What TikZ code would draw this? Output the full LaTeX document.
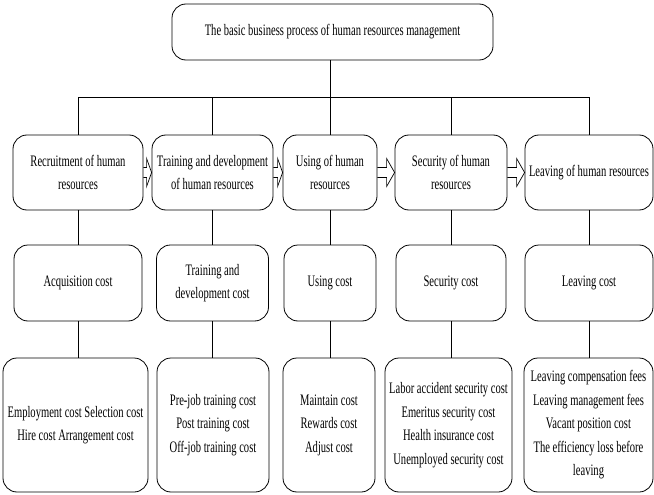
\documentclass[tikz,border=0pt]{standalone}
\usepackage{fontspec}
\setmainfont[FakeStretch=0.66]{Liberation Serif}
\usetikzlibrary{calc}
\tikzset{
  box/.style={draw, line width=0.8pt, rounded corners=14pt, align=center, inner sep=0pt,
    font=\fontsize{16}{23.5}\selectfont},
  conn/.style={line width=0.6pt},
  barrow/.style={line width=0.7pt}
}
\newcommand{\blockarrow}[3]{%
  \draw[barrow] let \p1=(#1.east), \p2=(#2.west) in
    (\x1,\y1+5pt) -- (\x2-#3,\y1+5pt) -- (\x2-#3,\y1+14pt) -- (\x2,\y1)
    -- (\x2-#3,\y1-14pt) -- (\x2-#3,\y1-5pt) -- (\x1,\y1-5pt);
}
\begin{document}
\begin{tikzpicture}[x=1pt,y=-1pt]
\useasboundingbox (0,0) rectangle (654,495);
% top
\node[box, minimum width=321pt, minimum height=56pt] (top) at (332.5,32)
  {The basic business process of human resources management};
% row 1
\node[box, minimum width=130pt, minimum height=75pt] (r1a) at (78,172.5) {Recruitment of human\\resources};
\node[box, minimum width=121pt, minimum height=75pt] (r1b) at (212.5,172.5) {Training and development\\of human resources};
\node[box, minimum width=94pt, minimum height=75pt] (r1c) at (330,172.5) {Using of human\\resources};
\node[box, minimum width=112pt, minimum height=75pt] (r1d) at (451,172.5) {Security of human\\resources};
\node[box, minimum width=128pt, minimum height=75pt] (r1e) at (589,172.5) {Leaving of human resources};
% row 2
\node[box, minimum width=128pt, minimum height=76pt] (r2a) at (78,283) {Acquisition cost};
\node[box, minimum width=112pt, minimum height=76pt] (r2b) at (212.5,283) {Training and\\development cost};
\node[box, minimum width=92pt, minimum height=76pt] (r2c) at (330,283) {Using cost};
\node[box, minimum width=110pt, minimum height=76pt] (r2d) at (451,283) {Security cost};
\node[box, minimum width=128pt, minimum height=76pt] (r2e) at (589,283) {Leaving cost};
% row 3
\node[box, minimum width=145pt, minimum height=134pt] (r3a) at (75.5,425) {Employment cost Selection cost\\Hire cost Arrangement cost};
\node[box, minimum width=112pt, minimum height=134pt] (r3b) at (213,425) {Pre-job training cost\\Post training cost\\Off-job training cost};
\node[box, minimum width=92pt, minimum height=134pt] (r3c) at (329,425) {Maintain cost\\Rewards cost\\Adjust cost};
\node[box, minimum width=127pt, minimum height=134pt] (r3d) at (448.5,425) {Labor accident security cost\\Emeritus security cost\\Health insurance cost\\Unemployed security cost};
\node[box, minimum width=129pt, minimum height=134pt] (r3e) at (588.5,425) {Leaving compensation fees\\Leaving management fees\\Vacant position cost\\The efficiency loss before\\leaving};
% tree connectors
\coordinate (j) at (330,97);
\draw[conn] (top.south -| j) -- (j);
\foreach \n in {r1a,r1b,r1c,r1d,r1e} \draw[conn] (j) -| (\n.north);
\foreach \a/\b in {r1a/r2a,r1b/r2b,r1c/r2c,r1d/r2d,r1e/r2e}
  \draw[conn] (\a.south) -- (\a.south |- \b.north);
\foreach \a/\b in {r2a/r3a,r2b/r3b,r2c/r3c,r2d/r3d,r2e/r3e}
  \draw[conn] (\a.south) -- (\a.south |- \b.north);
% block arrows
\blockarrow{r1a}{r1b}{5pt}
\blockarrow{r1b}{r1c}{5pt}
\blockarrow{r1c}{r1d}{8pt}
\blockarrow{r1d}{r1e}{8pt}
\end{tikzpicture}
\end{document}
